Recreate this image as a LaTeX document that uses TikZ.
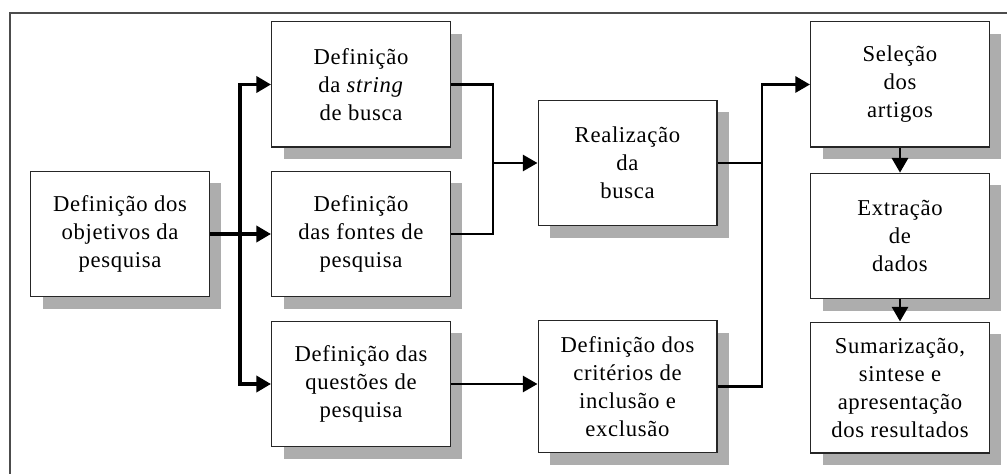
\documentclass[tikz,border=0pt]{standalone}
\usepackage{fontspec}
\setmainfont{Liberation Serif}[LetterSpace=3]
\usetikzlibrary{arrows.meta,shadows}

\tikzset{
	etapa/.style={draw=black!85, line width=1pt, fill=white, align=center,
		minimum width=134pt, minimum height=94pt, inner sep=2pt,
		font=\fontsize{17}{21}\selectfont,
		general shadow={fill=black!32, shadow xshift=9pt, shadow yshift=-9pt}},
	liga/.style={line width=2.2pt},
	seta/.style={line width=2.2pt, -{Triangle[length=11pt,width=12pt]}}
}

\begin{document}
\begin{tikzpicture}[x=0.75pt,y=-0.75pt]
	\useasboundingbox (0,0) rectangle (1007,474);
	\draw [black!70, line width=0.8pt] (1007,13) -- (10,13) -- (10,474);

	\node[etapa] (obj) at (120,234) {Definição dos\\objetivos da\\pesquisa};
	\node[etapa] (str) at (361,84.5) {Definição\\da \textit{string}\\de busca};
	\node[etapa] (fon) at (361,234) {Definição\\das fontes de\\pesquisa};
	\node[etapa] (que) at (361,384) {Definição das\\questões de\\pesquisa};
	\node[etapa] (rea) at (627.5,163) {Realização\\da\\busca};
	\node[etapa, minimum height=99pt] (cri) at (627.5,386.5) {Definição dos\\critérios de\\inclusão e\\exclusão};
	\node[etapa] (sel) at (900,84.5) {Seleção\\dos\\artigos};
	\node[etapa] (ext) at (900,236) {Extração\\de\\dados};
	\node[etapa, minimum height=98pt] (sum) at (900,387.5) {Sumarização,\\sintese e\\apresentação\\dos resultados};

	\coordinate (busA) at (240,234);
	\coordinate (busB) at (493,163);
	\coordinate (busC) at (762,163);

	\draw [liga, line width=2.8pt] (obj.east) -- (busA);
	\draw [seta, line width=2.8pt] (busA) |- (str.west);
	\draw [seta, line width=2.8pt] (busA) -- (fon.west);
	\draw [seta, line width=2.8pt] (busA) |- (que.west);

	\draw [liga] (str.east) -| (busB);
	\draw [liga] (fon.east) -| (busB);
	\draw [seta] (busB) -- (rea.west);

	\draw [seta] (que.east) -- (que.east -| cri.west);

	\draw [liga] (rea.east) -- (busC);
	\draw [liga] (cri.east) -| (busC);
	\draw [seta] (busC) |- (sel.west);

	\draw [seta] (sel) -- (ext);
	\draw [seta] (ext) -- (sum);
\end{tikzpicture}
\end{document}
